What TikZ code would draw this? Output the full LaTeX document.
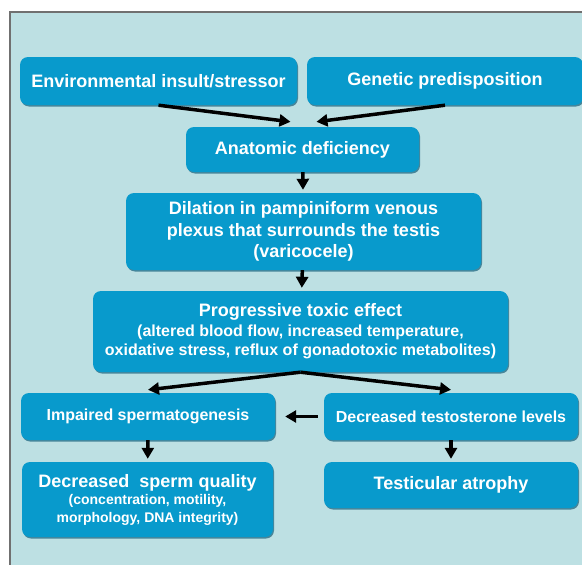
\documentclass[tikz,border=0pt]{standalone}
\usepackage{fontspec}
\setmainfont{Liberation Sans}
\usetikzlibrary{arrows.meta}
\usetikzlibrary{shadows}
\definecolor{panel-blue}{RGB}{189, 224, 227}
\definecolor{box-blue}{RGB}{8, 154, 204}
\definecolor{shade-blue}{RGB}{22, 96, 124}
\definecolor{frame-grey}{RGB}{112, 112, 112}
\newcommand{\subline}[2]{{\fontsize{#1}{#1}\selectfont #2}}

\begin{document}
\begin{tikzpicture}[x=1pt, y=-1pt,
        card/.style={draw=none, fill=box-blue, rounded corners=8pt, text=white,
                     font=\fontsize{18}{21.5}\selectfont\bfseries, align=center, inner sep=0pt,
                     drop shadow={shadow xshift=1pt, shadow yshift=-1.5pt, fill=shade-blue, opacity=0.7}},
        link/.style={line width=3.5pt, -{Triangle[length=11pt, width=12pt]}}]
                \useasboundingbox (0,0) rectangle (582,565);
                \fill [panel-blue] (10,12) rectangle (582,565);
                \draw [frame-grey, line width=2pt] (10,565) -- (10,12) -- (582,12);

                \node [card, minimum width=277pt, minimum height=48pt] (env) at (158.5,81) {Environmental insult/stressor};
                \node [card, minimum width=276pt, minimum height=48pt] (gen) at (445,81) {Genetic predisposition};
                \node [card, minimum width=233pt, minimum height=45pt] (anat) at (302.5,149.5) {Anatomic deficiency};
                \node [card, minimum width=355pt, minimum height=77pt] (dil) at (303.5,231.5)
                    {Dilation in pampiniform venous\\plexus that surrounds the testis\\(varicocele)};
                \node [card, minimum width=415pt, minimum height=81pt] (tox) at (300.5,331.5)
                    {Progressive toxic effect\\[-2pt]
                     \subline{16}{(altered blood flow, increased temperature,}\\[-2pt]
                     \subline{16}{oxidative stress, reflux of gonadotoxic metabolites)}};
                \node [card, minimum width=254pt, minimum height=47pt, font=\fontsize{16}{19}\selectfont\bfseries] (imp) at (148,416.5) {Impaired spermatogenesis};
                \node [card, minimum width=254pt, minimum height=47pt, font=\fontsize{16}{19}\selectfont\bfseries] (testo) at (451,416.5) {Decreased testosterone levels};
                \node [card, minimum width=251pt, minimum height=75pt] (qual) at (147.5,499.5)
                    {Decreased\ \ sperm quality\\[-4pt]
                     \subline{14}{(concentration, motility,}\\[-4pt]
                     \subline{14}{morphology, DNA integrity)}};
                \node [card, minimum width=254pt, minimum height=46pt] (atro) at (451,485) {Testicular atrophy};

                \draw [link] (env.south) -- ([xshift=-12pt, yshift=5pt]anat.north);
                \draw [link] (gen.south) -- ([xshift=14pt, yshift=5pt]anat.north);
                \draw [link, shorten >=3pt] (anat) -- (dil);
                \draw [link, shorten >=3pt] (dil) -- (tox);
                \draw [link] (tox.south) -- ([yshift=3pt]imp.north);
                \draw [link] (tox.south) -- ([yshift=3pt]testo.north);
                \draw [link, shorten <=6pt, shorten >=10pt] (testo) -- (imp);
                \draw [link, shorten >=3pt] (imp) -- (qual);
                \draw [link, shorten >=3pt] (testo) -- (atro);
            \end{tikzpicture}
\end{document}
